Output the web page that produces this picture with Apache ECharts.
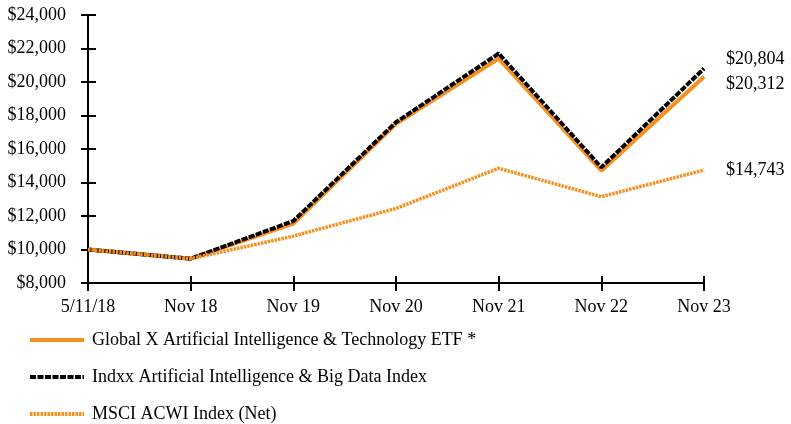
<!DOCTYPE html>
<html><head><meta charset="utf-8">
<script src="https://cdn.jsdelivr.net/npm/echarts@6/dist/echarts.min.js"></script>
<style>html,body{margin:0;padding:0;background:#fff}#c{width:791px;height:424px}</style>
</head><body><div id="c"></div>
<script>
var categories = ['5/11/18','Nov 18','Nov 19','Nov 20','Nov 21','Nov 22','Nov 23'];
var etfValues = [10000, 9450, 11550, 17500, 21400, 14700, 20312];
var indexValues = [10000, 9450, 11700, 17600, 21700, 14900, 20804];
var msciValues = [10000, 9450, 10800, 12450, 14850, 13150, 14743];
var seriesNames = ['Global X Artificial Intelligence & Technology ETF *','Indxx Artificial Intelligence & Big Data Index','MSCI ACWI Index (Net)'];
var orange = '#F7901E';
var font = 'Liberation Serif';
var fs = 18;
function fmt(v){return '$' + v.toLocaleString('en-US');}
var chart = echarts.init(document.getElementById('c'));
function endLbl(off){
  return {show:true, formatter:function(p){return fmt(p.value);}, distance:22, offset:off, color:'#000', fontFamily:font, fontSize:fs};
}
chart.setOption({
  animation:false,
  textStyle:{fontFamily:font},
  grid:{left:88,right:87,top:15,bottom:141},
  legend:{orient:'vertical',left:28,top:331,padding:0,itemWidth:54,itemHeight:14,itemGap:19,
    itemStyle:{opacity:0},
    lineStyle:{width:4},
    textStyle:{fontFamily:font,fontSize:fs,color:'#000',padding:[0,0,0,3]},
    data:seriesNames},
  xAxis:[{type:'category',data:categories,boundaryGap:false,
    axisLine:{lineStyle:{color:'#000',width:2}},
    axisTick:{alignWithLabel:true,length:8,lineStyle:{color:'#000',width:2}},
    axisLabel:{color:'#000',fontFamily:font,fontSize:fs,margin:15}},
   {type:'category',data:categories,boundaryGap:false,position:'bottom',
    axisLine:{show:false},axisLabel:{show:false},
    axisTick:{inside:true,length:7,lineStyle:{color:'#000',width:2}}}],
  yAxis:[{type:'value',min:8000,max:24000,interval:2000,
    axisLine:{show:true,lineStyle:{color:'#000',width:2}},
    axisTick:{show:true,length:7,lineStyle:{color:'#000',width:2}},
    splitLine:{show:false},
    axisLabel:{color:'#000',fontFamily:font,fontSize:fs,margin:22,formatter:fmt}},
   {type:'value',min:8000,max:24000,interval:2000,position:'left',
    axisLine:{show:false},splitLine:{show:false},axisLabel:{show:false},
    axisTick:{show:true,inside:true,length:8,lineStyle:{color:'#000',width:2}}}],
  series:[
    {name:seriesNames[0],type:'line',data:etfValues,symbol:'none',color:orange,
     lineStyle:{color:orange,width:4},endLabel:endLbl([0,7])},
    {name:seriesNames[1],type:'line',data:indexValues,symbol:'none',color:'#000',
     lineStyle:{color:'#000',width:4,type:[6,1.5]},endLabel:endLbl([0,-9])},
    {name:seriesNames[2],type:'line',data:msciValues,symbol:'none',color:orange,
     lineStyle:{color:orange,width:3.5,type:[2.5,1]},endLabel:endLbl([0,0])}
  ]
});
</script></body></html>
